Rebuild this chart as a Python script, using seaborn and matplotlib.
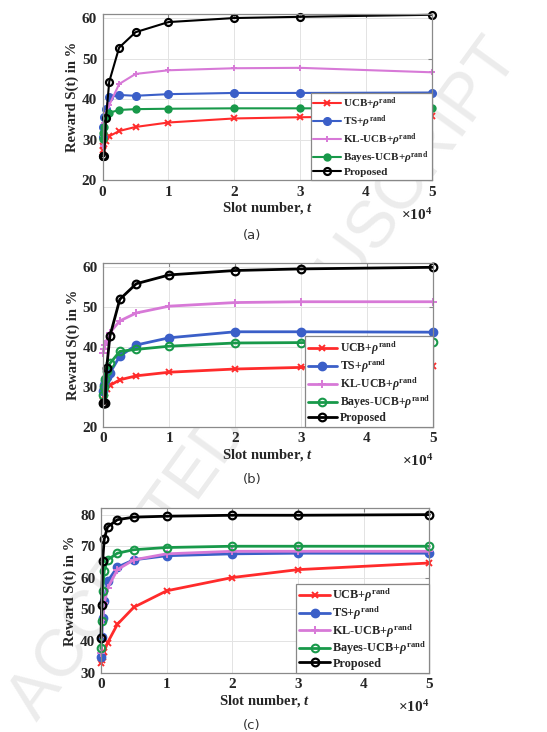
import matplotlib
matplotlib.use("Agg")
import matplotlib.pyplot as plt
import seaborn as sns

# slot numbers (same for every panel)
x_slots = [1, 100, 250, 500, 1000, 2500, 5000, 10000, 20000, 30000, 50000]

# panel (a)
a_ucb = [27.5, 28.3, 29.0, 29.6, 30.8, 32.1, 33.1, 34.2, 35.2, 35.5, 35.8]
a_ts = [30.5, 33.0, 35.5, 37.5, 40.4, 41.0, 40.8, 41.2, 41.5, 41.5, 41.6]
a_kl = [28.5, 30.5, 34.0, 36.5, 38.5, 43.7, 46.2, 47.1, 47.6, 47.7, 46.6]
a_bayes = [30.2, 31.5, 33.0, 35.5, 36.6, 37.3, 37.5, 37.6, 37.7, 37.7, 37.7]
a_prop = [25.9, 25.9, 25.9, 35.2, 44.3, 52.7, 56.5, 59.0, 60.0, 60.3, 60.8]

# panel (b)
b_ucb = [26.5, 27.5, 28.5, 29.5, 30.3, 31.7, 32.7, 33.6, 34.4, 34.8, 35.2]
b_ts = [29.0, 30.5, 31.5, 32.5, 33.4, 37.6, 40.4, 42.2, 43.7, 43.7, 43.6]
b_kl = [38.5, 39.5, 40.5, 41.5, 43.5, 46.4, 48.4, 50.1, 51.0, 51.2, 51.2]
b_bayes = [28.0, 30.0, 32.0, 34.0, 35.8, 38.8, 39.3, 40.1, 40.9, 41.0, 41.2]
b_prop = [25.8, 25.8, 25.8, 34.6, 42.6, 51.8, 55.7, 57.9, 59.0, 59.4, 59.8]

# panel (c)
c_ucb = [33.0, 34.0, 35.1, 36.7, 39.5, 45.3, 50.7, 55.9, 60.1, 62.6, 64.7]
c_ts = [35.1, 41.4, 47.2, 52.8, 58.9, 63.4, 65.7, 67.0, 67.6, 67.8, 67.8]
c_kl = [36.1, 41.4, 46.7, 52.0, 56.7, 62.6, 65.7, 67.6, 68.4, 68.4, 68.4]
c_bayes = [37.7, 46.2, 55.7, 62.3, 65.7, 67.8, 68.9, 69.6, 70.0, 70.0, 70.0]
c_prop = [41.1, 51.5, 65.4, 72.3, 76.1, 78.4, 79.2, 79.5, 79.8, 79.8, 80.0]

labels = ["UCB+$\\rho^{\\mathbf{rand}}$", "TS+$\\rho^{\\mathbf{rand}}$",
          "KL-UCB+$\\rho^{\\mathbf{rand}}$", "Bayes-UCB+$\\rho^{\\mathbf{rand}}$",
          "Proposed"]
colors = ["#ff2b2b", "#3b5fc8", "#d779d7", "#18994a", "black"]

sns.set_style("white")
plt.rcParams["font.family"] = ["Liberation Serif", "DejaVu Serif"]
plt.rcParams["font.weight"] = "bold"
plt.rcParams["mathtext.fontset"] = "custom"
plt.rcParams["mathtext.rm"] = "Liberation Serif"
plt.rcParams["mathtext.bf"] = "Liberation Serif:bold"
plt.rcParams["mathtext.it"] = "Liberation Serif:italic:bold"


def draw_panel(ax, series, ylim, yticks, small, open_green, leg_fs, leg_sp):
    lw = 1.5 if small else 2.0
    markers = [
        dict(marker="x", markersize=4 if small else 4.5, markeredgewidth=1.4),
        dict(marker="o", markersize=5.5 if small else 6, markeredgewidth=1.0),
        dict(marker="+", markersize=5 if small else 5.5, markeredgewidth=1.4),
        dict(marker="o", markersize=4.5 if small else 5.5,
             markerfacecolor="none" if open_green else "#18994a",
             markeredgewidth=1.5),
        dict(marker="o", markersize=5 if small else 5.5,
             markerfacecolor="none", markeredgewidth=1.6),
    ]
    for y, lab, col, mk in zip(series, labels, colors, markers):
        sns.lineplot(x=x_slots, y=y, ax=ax, color=col, linewidth=lw,
                     label=lab, clip_on=False, markeredgecolor=col, **mk)
    ax.set_xlim(0, 50000)
    ax.set_ylim(*ylim)
    ax.set_xticks([0, 10000, 20000, 30000, 40000, 50000],
                  ["0", "1", "2", "3", "4", "5"])
    ax.set_yticks(yticks)
    ax.tick_params(direction="in", labelsize=11, pad=4, length=3,
                   color="#888888", top=True, right=True)
    ax.grid(True, color="#e3e3e3", linewidth=0.7)
    for s in ax.spines.values():
        s.set_color("#8a8a8a")
        s.set_linewidth(0.9)
    ax.set_xlabel("Slot number, $t$", fontsize=10.5, fontweight="bold",
                  labelpad=1)
    ax.set_ylabel("Reward S(t) in %", fontsize=10.5, fontweight="bold",
                  labelpad=2)
    ax.text(1.0, -0.21, "$\\times 10^{4}$", transform=ax.transAxes,
            ha="right", va="center", fontsize=11)
    h, l = ax.get_legend_handles_labels()
    leg = ax.legend(h, l, loc="lower right", bbox_to_anchor=(1.0, 0.0),
                    borderaxespad=0, fancybox=False, framealpha=1,
                    edgecolor="#888888",
                    handlelength=2.5, handletextpad=0.2, labelspacing=leg_sp,
                    borderpad=0.25, prop={"weight": "bold", "size": leg_fs})
    leg.get_frame().set_linewidth(0.9)


fig = plt.figure(figsize=(5.47, 7.32), dpi=100)

# watermark behind everything
fig.text(0.485, 0.48, "ACCEPTED MANUSCRIPT", rotation=54, fontsize=48,
         color="#ececec", ha="center", va="center",
         family="Liberation Sans", fontweight="normal", zorder=-10)

ax_a = fig.add_axes([0.1877, 0.7541, 0.6015, 0.2268])
ax_b = fig.add_axes([0.1889, 0.4171, 0.6022, 0.2232])
ax_c = fig.add_axes([0.1846, 0.0810, 0.6002, 0.2246])

draw_panel(ax_a, [a_ucb, a_ts, a_kl, a_bayes, a_prop], (20, 61),
           [20, 30, 40, 50, 60], True, False, 8, 0.12)
draw_panel(ax_b, [b_ucb, b_ts, b_kl, b_bayes, b_prop], (20, 60.8),
           [20, 30, 40, 50, 60], False, True, 8.5, 0.05)
draw_panel(ax_c, [c_ucb, c_ts, c_kl, c_bayes, c_prop], (30, 82),
           [30, 40, 50, 60, 70, 80], False, True, 8.8, 0.02)

for ypix, cap in [(235, "(a)"), (480, "(b)"), (726, "(c)")]:
    fig.text(252 / 547, 1 - ypix / 732, cap, ha="center", va="center",
             fontsize=9.5, family="DejaVu Sans", fontweight="normal",
             color="#333333")

fig.savefig("out.png", dpi=100)
